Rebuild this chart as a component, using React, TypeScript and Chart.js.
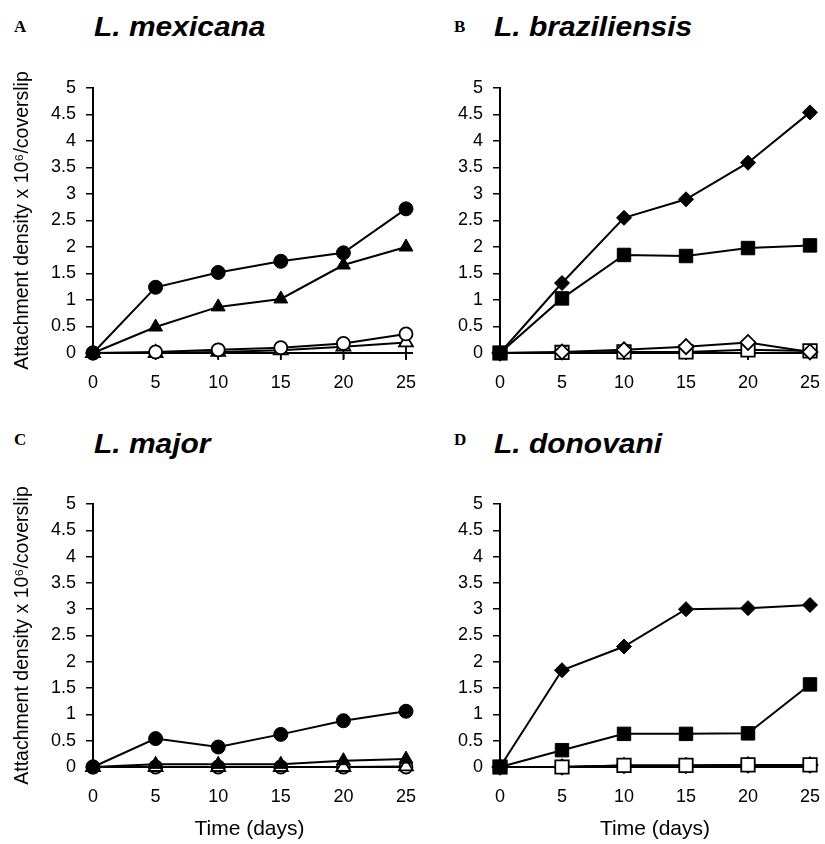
import React, { useEffect, useRef } from "react";
import { Chart, registerables } from "chart.js";

Chart.register(...registerables);

// ---------- data ----------
const days = [0, 5, 10, 15, 20, 25];
const yTicks = [0, 0.5, 1, 1.5, 2, 2.5, 3, 3.5, 4, 4.5, 5];

// A: L. mexicana
const mexFilledCircle = [0, 1.24, 1.52, 1.73, 1.89, 2.72];
const mexFilledTriangle = [0, 0.49, 0.87, 1.02, 1.66, 2.0];
const mexOpenCircle = [0, 0.02, 0.06, 0.1, 0.18, 0.36];
const mexOpenTriangle = [0, 0, 0.02, 0.05, 0.12, 0.2];
const mexCross = [0, 0, 0, 0, 0, 0];

// B: L. braziliensis
const brzFilledDiamond = [0, 1.32, 2.55, 2.9, 3.59, 4.54];
const brzFilledSquare = [0, 1.03, 1.85, 1.83, 1.98, 2.03];
const brzOpenDiamond = [0, 0.02, 0.06, 0.12, 0.2, 0.02];
const brzOpenSquare = [0, 0.01, 0.02, 0.02, 0.06, 0.04];
const brzCross = [0, 0, 0, 0, 0, 0];

// C: L. major
const majFilledCircle = [0, 0.54, 0.38, 0.62, 0.88, 1.06];
const majFilledTriangle = [0, 0.05, 0.05, 0.05, 0.12, 0.15];
const majOpenTriangle = [0, 0, 0, 0, 0, 0.01];
const majOpenCircle = [0, 0, 0, 0, 0, 0];

// D: L. donovani
const donFilledDiamond = [0, 1.84, 2.29, 3.0, 3.02, 3.08];
const donFilledSquare = [0, 0.32, 0.63, 0.63, 0.64, 1.57];
const donOpenSquare = [0, 0, 0.03, 0.03, 0.04, 0.04];
const donOpenDiamond = [0, 0, 0.03, 0.03, 0.04, 0.04];
const donOpenTriangle = [0, 0, 0.02, 0.02, 0.03, 0.03];

const yTitleText = "Attachment density x 10\u2076/coverslip";
const xTitleText = "Time (days)";

// ---------- styling helpers ----------
const SANS = "'Liberation Sans', Arial, Helvetica, sans-serif";

type Series = {
  label: string;
  data: number[];
  style: string;
  filled: boolean;
  radius: number;
};

function ds(s: Series) {
  return {
    label: s.label,
    data: s.data.map((v, i) => ({ x: days[i], y: v })),
    borderColor: "#000",
    borderWidth: 2,
    pointStyle: s.style,
    pointRadius: s.radius,
    pointBackgroundColor: s.filled ? "#000" : "#fff",
    pointBorderColor: "#000",
    pointBorderWidth: s.filled ? 1 : 1.8,
    fill: false,
    tension: 0,
    clip: false as any,
  };
}

type PanelProps = {
  left: number;
  top: number;
  width: number;
  height: number;
  areaLeft: number;
  areaTop: number;
  areaRight: number;
  xHeight: number;
  yTitle?: string;
  xTitle?: string;
  series: Series[];
};

function Panel(p: PanelProps) {
  const ref = useRef<HTMLCanvasElement | null>(null);
  useEffect(() => {
    if (!ref.current) return;
    const tickFont = { family: SANS, size: 18 };
    const chart = new Chart(ref.current, {
      type: "line",
      data: { datasets: p.series.map(ds) as any },
      options: {
        responsive: false,
        animation: false,
        maintainAspectRatio: false,
        layout: {
          padding: { left: 0, top: p.areaTop, right: p.width - p.areaRight, bottom: 0 },
        },
        plugins: {
          legend: { display: false },
          tooltip: { enabled: false },
          title: { display: false },
        },
        scales: {
          x: {
            type: "linear",
            min: 0,
            max: 25,
            afterFit: (s: any) => {
              s.height = p.xHeight;
              s.paddingLeft = 0;
              s.paddingRight = 0;
            },
            afterBuildTicks: (s: any) => {
              s.ticks = days.map((d) => ({ value: d }));
            },
            ticks: {
              color: "#000",
              font: tickFont,
              padding: 13,
              maxRotation: 0,
              autoSkip: false,
            },
            grid: {
              display: true,
              drawOnChartArea: false,
              drawTicks: true,
              tickLength: 6,
              color: "#000",
              lineWidth: 1.5,
            },
            border: { display: true, color: "#000", width: 2 },
            title: {
              display: !!p.xTitle,
              text: p.xTitle || "",
              color: "#000",
              font: { family: SANS, size: 21 },
              padding: { top: 2, bottom: 2 },
            },
          },
          y: {
            type: "linear",
            min: 0,
            max: 5,
            afterFit: (s: any) => {
              s.width = p.areaLeft;
              s.paddingTop = 0;
              s.paddingBottom = 0;
            },
            afterBuildTicks: (s: any) => {
              s.ticks = yTicks.map((v) => ({ value: v }));
            },
            ticks: {
              color: "#000",
              font: tickFont,
              padding: 10,
              autoSkip: false,
              callback: (v: any) => String(v),
            },
            grid: {
              display: true,
              drawOnChartArea: false,
              drawTicks: true,
              tickLength: 7,
              color: "#000",
              lineWidth: 1.5,
            },
            border: { display: true, color: "#000", width: 2 },
            title: {
              display: !!p.yTitle,
              text: p.yTitle || "",
              color: "#000",
              font: { family: SANS, size: 19.5 },
              padding: { top: 11, bottom: 0 },
            },
          },
        },
      } as any,
    });
    return () => chart.destroy();
  }, []);
  return (
    <canvas
      ref={ref}
      width={p.width}
      height={p.height}
      style={{
        position: "absolute",
        left: p.left,
        top: p.top,
        width: p.width,
        height: p.height,
      }}
    />
  );
}

function Label(props: { x: number; y: number; text: string; kind: "letter" | "title" }) {
  const style: React.CSSProperties =
    props.kind === "letter"
      ? {
          position: "absolute",
          left: props.x,
          top: props.y,
          fontFamily: "'Liberation Serif', 'Times New Roman', serif",
          fontWeight: "bold",
          fontSize: 17,
          lineHeight: "17px",
          color: "#000",
          whiteSpace: "nowrap",
        }
      : {
          position: "absolute",
          left: props.x,
          top: props.y,
          fontFamily: SANS,
          fontWeight: "bold",
          fontStyle: "italic",
          fontSize: 28,
          lineHeight: "28px",
          color: "#000",
          whiteSpace: "nowrap",
          transform: "scaleX(1.07)",
          transformOrigin: "left center",
        };
  return <div style={style}>{props.text}</div>;
}

export default function App() {
  const F = true;
  const O = false;
  return (
    <div
      style={{
        position: "absolute",
        left: 0,
        top: 0,
        width: 825,
        height: 844,
        background: "#fff",
        overflow: "hidden",
      }}
    >
      <Label x={14} y={18} text="A" kind="letter" />
      <Label x={94} y={13} text="L. mexicana" kind="title" />
      <Label x={454} y={18} text="B" kind="letter" />
      <Label x={494} y={13} text="L. braziliensis" kind="title" />
      <Label x={14} y={431} text="C" kind="letter" />
      <Label x={94} y={430} text="L. major" kind="title" />
      <Label x={454} y={431} text="D" kind="letter" />
      <Label x={494} y={430} text="L. donovani" kind="title" />

      <Panel
        left={0}
        top={70}
        width={420}
        height={350}
        areaLeft={93}
        areaTop={18}
        areaRight={406}
        xHeight={67}
        yTitle={yTitleText}
        series={[
          { label: "filled circle", data: mexFilledCircle, style: "circle", filled: F, radius: 7 },
          { label: "filled triangle", data: mexFilledTriangle, style: "triangle", filled: F, radius: 8 },
          { label: "open circle", data: mexOpenCircle, style: "circle", filled: O, radius: 6.5 },
          { label: "open triangle", data: mexOpenTriangle, style: "triangle", filled: O, radius: 8 },
          { label: "cross", data: mexCross, style: "cross", filled: O, radius: 7 },
        ]}
      />
      <Panel
        left={420}
        top={70}
        width={405}
        height={350}
        areaLeft={80}
        areaTop={18}
        areaRight={390}
        xHeight={67}
        series={[
          { label: "filled diamond", data: brzFilledDiamond, style: "rectRot", filled: F, radius: 7.5 },
          { label: "filled square", data: brzFilledSquare, style: "rect", filled: F, radius: 9.5 },
          { label: "open diamond", data: brzOpenDiamond, style: "rectRot", filled: O, radius: 7.5 },
          { label: "open square", data: brzOpenSquare, style: "rect", filled: O, radius: 9.5 },
          { label: "cross", data: brzCross, style: "cross", filled: O, radius: 7 },
        ]}
      />
      <Panel
        left={0}
        top={484}
        width={420}
        height={360}
        areaLeft={93}
        areaTop={20}
        areaRight={406}
        xHeight={77}
        yTitle={yTitleText}
        xTitle={xTitleText}
        series={[
          { label: "filled circle", data: majFilledCircle, style: "circle", filled: F, radius: 7 },
          { label: "filled triangle", data: majFilledTriangle, style: "triangle", filled: F, radius: 8 },
          { label: "open triangle", data: majOpenTriangle, style: "triangle", filled: O, radius: 8 },
          { label: "open circle", data: majOpenCircle, style: "circle", filled: O, radius: 6.5 },
        ]}
      />
      <Panel
        left={420}
        top={484}
        width={405}
        height={360}
        areaLeft={80}
        areaTop={20}
        areaRight={390}
        xHeight={77}
        xTitle={xTitleText}
        series={[
          { label: "filled diamond", data: donFilledDiamond, style: "rectRot", filled: F, radius: 7.5 },
          { label: "filled square", data: donFilledSquare, style: "rect", filled: F, radius: 9.5 },
          { label: "open square", data: donOpenSquare, style: "rect", filled: O, radius: 9.5 },
          { label: "open diamond", data: donOpenDiamond, style: "rectRot", filled: O, radius: 7.5 },
          { label: "open triangle", data: donOpenTriangle, style: "triangle", filled: O, radius: 6 },
        ]}
      />
    </div>
  );
}
